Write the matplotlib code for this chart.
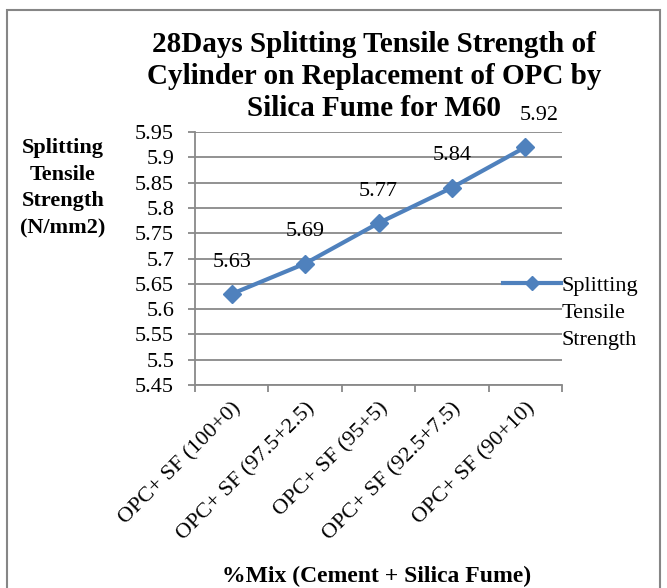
import matplotlib
matplotlib.use("Agg")
import matplotlib.pyplot as plt
from matplotlib.patches import Rectangle
from matplotlib.lines import Line2D

plt.rcParams['font.family'] = ['Liberation Serif', 'DejaVu Serif']

############################################
mixes = ['OPC+ SF (100+0)', 'OPC+ SF (97.5+2.5)', 'OPC+ SF (95+5)',
         'OPC+ SF (92.5+7.5)', 'OPC+ SF (90+10)']
strength = [5.63, 5.69, 5.77, 5.84, 5.92]
yticks = [5.45, 5.5, 5.55, 5.6, 5.65, 5.7, 5.75, 5.8, 5.85, 5.9, 5.95]
series_name = 'Splitting Tensile Strength'
title_lines = ['28Days Splitting Tensile Strength of',
               'Cylinder on Replacement of OPC by',
               'Silica Fume for M60']
############################################

blue = '#4F81BD'
grey = '#898989'

fig = plt.figure(figsize=(6.67, 5.88), dpi=100)
ax = fig.add_axes([195/667, 1-385/588, (562-195)/667, (385-132)/588])

x = list(range(len(mixes)))
line, = ax.plot(x, strength, color=blue, lw=3, marker='D', ms=9.5, mec=blue, mfc=blue,
                clip_on=False, zorder=3)

for xi, v in zip(x, strength):
    dx = 10 if xi == len(x) - 1 else 0   # last label nudged right, clear of the title
    ax.annotate(f'{v:.2f}', (xi, v), xytext=(dx, 16), textcoords='offset points',
                ha='center', va='bottom', fontsize=16, annotation_clip=False)

ax.set_xlim(-0.5, len(mixes) - 0.5)
ax.set_ylim(5.45, 5.95)
ax.set_yticks(yticks)
ax.set_yticklabels([f'{t:g}' for t in yticks], fontsize=16)
ax.yaxis.grid(True, color=grey, lw=1.3)
ax.set_axisbelow(True)

ax.set_xticks(x)
ax.set_xticklabels(mixes, rotation=45, ha='right', rotation_mode='anchor', fontsize=16)
ax.tick_params(axis='x', length=0, pad=10)
ax.set_xticks([i - 0.5 for i in range(len(mixes) + 1)], minor=True)
ax.tick_params(axis='x', which='minor', length=5, color=grey, width=1.3)
ax.tick_params(axis='y', length=5, color=grey, width=1.3, pad=10)

for s in ['top', 'right']:
    ax.spines[s].set_visible(False)
for s in ['left', 'bottom']:
    ax.spines[s].set_color(grey)
    ax.spines[s].set_linewidth(1.3)

# title, one text per line so the 5.92 label can sit beside the last line
for i, t in enumerate(title_lines):
    fig.text(374/667, 1-(44 + 32.5*i)/588, t, ha='center', va='center',
             fontsize=21, fontweight='bold')
fig.text(63/667, 1-188/588, 'Splitting\nTensile\nStrength\n(N/mm2)',
         ha='center', va='center', fontsize=16, fontweight='bold', linespacing=1.45)
fig.text(377/667, 1-576/588, '%Mix (Cement + Silica Fume)',
         ha='center', va='center', fontsize=17, fontweight='bold')

# legend: handle beside the first line of the wrapped series name
words = series_name.split()
blank = Line2D([], [], alpha=0)
ax.legend([line, blank, blank], words, loc='upper left',
          bbox_to_anchor=(503/667, 1-275/588), bbox_transform=fig.transFigure,
          frameon=False, fontsize=16, handlelength=2.6, handletextpad=0.05,
          borderaxespad=0, borderpad=0, labelspacing=0.3, markerscale=0.75)

fig.patches.append(Rectangle((7/667, -0.01), (660-7)/667, 1-10/588 + 0.01,
                             transform=fig.transFigure, fill=False,
                             edgecolor='#868686', lw=1.5))

fig.savefig('out.png', dpi=100)
